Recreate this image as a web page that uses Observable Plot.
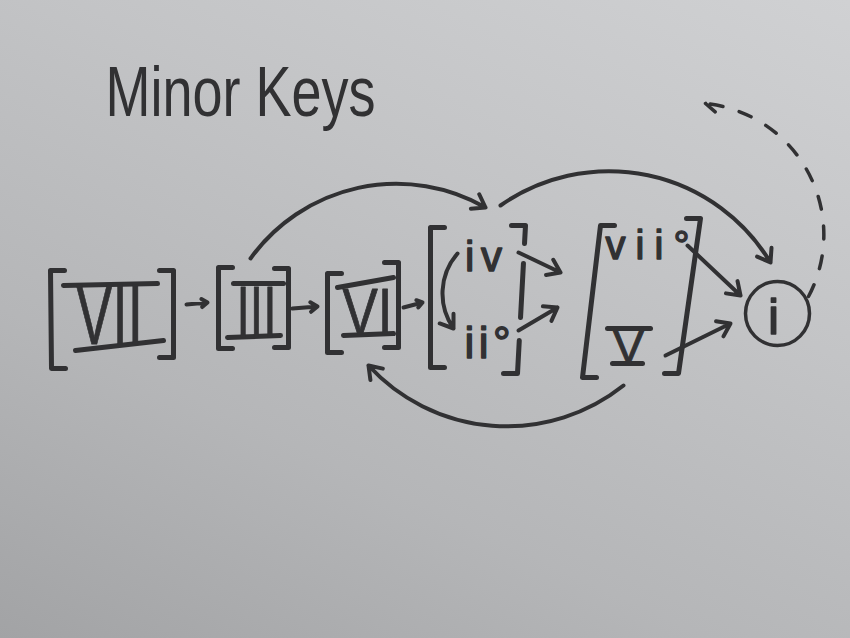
<!DOCTYPE html>
<html><head><meta charset="utf-8">
<script src="https://cdn.jsdelivr.net/npm/d3@7"></script>
<script src="https://cdn.jsdelivr.net/npm/@observablehq/plot@0.6"></script>
<style>
html,body{margin:0;padding:0;background:#bdbec0;overflow:hidden}
#chart svg{display:block}
</style></head><body><div id="chart"></div>
<script>
// ---------- data ----------
const titleText = "Minor Keys";
const titleX = 240, titleY = 115;

// chord symbols (baseline positions on the sheet)
const chordLabel = ["VII", "III", "VI", "iv", "ii°", "vii°", "V", "i"];
const chordX     = [109,   256,   367,  483,  487,   647,    628, 773];
const chordY     = [343,   336,   333,  270,  357,   258,    361, 333];

// horizontal bars above/below the capital numerals
const barOf = ["VII", "VII", "III", "III", "VI", "VI", "V", "V"];
const barX1 = [63,  75,  233, 227, 337, 343, 607, 612];
const barY1 = [285, 350, 283, 337, 287, 335, 328, 363];
const barX2 = [157, 163, 283, 280, 393, 393, 650, 642];
const barY2 = [283, 340, 283, 335, 277, 333, 328, 363];

// square brackets around chord groups
const bracketGroup     = ["VII", "III", "VI", "iv / ii°", "vii° / V"];
const bracketLeftTopX  = [50,  218, 327, 430, 600];
const bracketLeftBotX  = [51,  218, 327, 430, 582];
const bracketLeftTopY  = [270, 267, 273, 227, 225];
const bracketLeftBotY  = [368, 348, 352, 367, 377];
const bracketRightTopX = [173, 288, 398, 525, 700];
const bracketRightBotX = [173, 288, 398, 517, 678];
const bracketRightTopY = [270, 268, 262, 225, 218];
const bracketRightBotY = [357, 347, 347, 373, 373];
const bracketRightGaps = [[], [], [], [[243, 263], [317, 340]], []];

// progressions (arrows)
const arrowFrom  = ["VII", "III", "VI", "iv", "iv", "ii°", "vii°", "V", "III", "iv", "V", "i"];
const arrowTo    = ["III", "VI", "iv", "ii°", "vii°", "V", "i", "i", "iv", "i", "VI", "any"];
const arrowX1    = [186, 292, 403, 457, 518, 518, 687, 665, 250, 500, 623, 808];
const arrowY1    = [304, 308, 307, 253, 252, 330, 245, 355, 258, 205, 385, 296];
const arrowX2    = [207, 317, 422, 453, 560, 557, 740, 730, 485, 770, 368, 705];
const arrowY2    = [302, 306, 302, 328, 272, 307, 295, 323, 207, 262, 365, 103];
const arrowBend  = [0, 0, 0, -38, 0, 0, 0, 0, 42, 47, 43, -56];
const arrowDash  = [false, false, false, false, false, false, false, false, false, false, false, true];

// tonic circle
const tonicX = 777, tonicY = 313;

// ---------- style ----------
const ink = "#313133";
const font = "Liberation Sans";
const glyphSize = {"VII": 86, "III": 73, "VI": 64, "iv": 42, "ii°": 44, "vii°": 40, "V": 45, "i": 50};
const glyphWidth = {"VII": 67, "III": 40, "VI": 50, "iv": 37, "ii°": 46, "vii°": 84, "V": 31};
const serif = 14;

// ---------- build tables ----------
const chords = chordLabel.map((c, i) => ({label: c, x: chordX[i], y: chordY[i]}));
const bars = barOf.map((b, i) => ({of: b, x1: barX1[i], y1: barY1[i], x2: barX2[i], y2: barY2[i]}));

const bracketPts = [];
bracketGroup.forEach((g, i) => {
  const lT = [bracketLeftTopX[i], bracketLeftTopY[i]], lB = [bracketLeftBotX[i], bracketLeftBotY[i]];
  [[lT[0] + serif, lT[1]], lT, lB, [lB[0] + serif, lB[1]]].forEach(p => bracketPts.push({id: g + "-L", x: p[0], y: p[1]}));
  const rT = [bracketRightTopX[i], bracketRightTopY[i]], rB = [bracketRightBotX[i], bracketRightBotY[i]];
  const xAt = y => rT[0] + (rB[0] - rT[0]) * (y - rT[1]) / (rB[1] - rT[1]);
  const cuts = [rT[1]];
  bracketRightGaps[i].forEach(([a, b]) => cuts.push(a, b));
  cuts.push(rB[1]);
  for (let k = 0; k < cuts.length; k += 2) {
    const id = g + "-R" + k;
    if (k === 0) bracketPts.push({id, x: rT[0] - serif, y: rT[1]});
    bracketPts.push({id, x: xAt(cuts[k]), y: cuts[k]});
    bracketPts.push({id, x: xAt(cuts[k + 1]), y: cuts[k + 1]});
    if (k + 2 >= cuts.length) bracketPts.push({id, x: rB[0] - serif, y: rB[1]});
  }
});

const arrows = arrowFrom.map((f, i) => ({from: f, to: arrowTo[i], x1: arrowX1[i], y1: arrowY1[i], x2: arrowX2[i], y2: arrowY2[i], bend: arrowBend[i], dashed: arrowDash[i]}));

// ---------- plot ----------
const chart = Plot.plot({
  width: 850,
  height: 638,
  margin: 0,
  x: {domain: [0, 850], range: [0, 850], axis: null},
  y: {domain: [0, 638], range: [0, 638], axis: null},
  style: {background: "linear-gradient(205deg, #d0d1d3 0%, #c3c4c6 35%, #b5b6b8 68%, #a2a3a5 100%)", overflow: "visible"},
  marks: [
    Plot.text([titleText], {x: titleX, y: titleY, text: d => d, fontFamily: font, fontSize: 70, fill: ink, lineAnchor: "bottom"}),
    Plot.line(bracketPts, {x: "x", y: "y", z: "id", stroke: ink, strokeWidth: 5, strokeLinejoin: "round", strokeLinecap: "round"}),
    Plot.link(bars, {x1: "x1", y1: "y1", x2: "x2", y2: "y2", stroke: ink, strokeWidth: 5, strokeLinecap: "round"}),
    ...Object.entries(glyphSize).map(([lab, size]) =>
      Plot.text(chords.filter(d => d.label === lab), {
        x: "x", y: "y", text: "label", fontFamily: font, fontSize: size,
        fill: ink, stroke: ink, strokeWidth: lab === lab.toUpperCase() ? 0.8 : 1.4, lineAnchor: "bottom"
      })),
    Plot.dot([{x: tonicX, y: tonicY}], {x: "x", y: "y", r: 32, stroke: ink, strokeWidth: 3.5, fill: "none"}),
    ...arrows.map(a => Plot.arrow([a], {
      x1: "x1", y1: "y1", x2: "x2", y2: "y2", bend: a.bend,
      stroke: ink, strokeWidth: a.dashed ? 3.5 : 4, headLength: 5.5, headAngle: 70,
      strokeLinecap: "round", strokeLinejoin: "round",
      strokeDasharray: a.dashed ? "13 17" : null
    }))
  ]
});
document.getElementById("chart").append(chart);

// squeeze/spread the hand-lettered glyphs to the drawn widths
chart.querySelectorAll("text").forEach(t => {
  const s = t.textContent;
  if (s === titleText) {
    t.setAttribute("textLength", 270);
    t.setAttribute("lengthAdjust", "spacingAndGlyphs");
  } else if (glyphWidth[s] !== undefined) {
    t.setAttribute("textLength", glyphWidth[s]);
    t.setAttribute("lengthAdjust", s === s.toUpperCase() ? "spacingAndGlyphs" : "spacing");
  }
});
</script>
</body></html>
